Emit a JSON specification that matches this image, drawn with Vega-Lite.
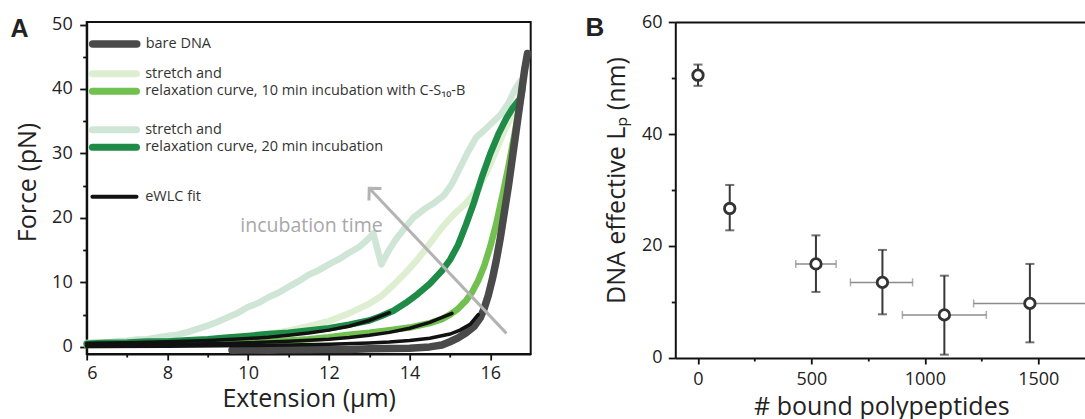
{
  "$schema": "https://vega.github.io/schema/vega-lite/v6.json",
  "padding": {"left": 8.7, "top": 13, "right": 0, "bottom": 0},
  "config": {
    "font": "Open Sans",
    "view": {"stroke": "#111", "strokeWidth": 2},
    "axis": {"grid": false, "domainColor": "#111", "domainWidth": 2, "tickColor": "#111", "tickWidth": 1.8, "labelFontSize": 18, "labelColor": "#222", "titleFontSize": 25, "titleFontWeight": "normal", "titleColor": "#222"},
    "legend": {"labelFont": "Open Sans", "orient": "none", "title": null, "symbolType": "M-6.3,0L6.3,0", "symbolSize": 49, "labelOffset": 23.5, "labelFontSize": 14.5, "labelColor": "#333", "padding": 0, "labelLimit": 500},
    "title": {"font": "Open Sans"}
  },
  "datasets": {
    "s20": [
      {"s": "stretch and", "x": 6.0, "y": 0.6}, {"s": "stretch and", "x": 6.25, "y": 0.75}, {"s": "stretch and", "x": 6.5, "y": 0.7}, {"s": "stretch and", "x": 6.75, "y": 0.9}, {"s": "stretch and", "x": 7.0, "y": 0.95}, {"s": "stretch and", "x": 7.25, "y": 1.15}, {"s": "stretch and", "x": 7.5, "y": 1.2}, {"s": "stretch and", "x": 7.75, "y": 1.45}, {"s": "stretch and", "x": 8.0, "y": 1.7}, {"s": "stretch and", "x": 8.25, "y": 1.9}, {"s": "stretch and", "x": 8.5, "y": 2.3}, {"s": "stretch and", "x": 8.75, "y": 2.8}, {"s": "stretch and", "x": 9.0, "y": 3.3}, {"s": "stretch and", "x": 9.25, "y": 3.9}, {"s": "stretch and", "x": 9.5, "y": 4.6}, {"s": "stretch and", "x": 9.75, "y": 5.3}, {"s": "stretch and", "x": 10.0, "y": 6.2}, {"s": "stretch and", "x": 10.25, "y": 6.8}, {"s": "stretch and", "x": 10.5, "y": 7.7}, {"s": "stretch and", "x": 10.75, "y": 8.4}, {"s": "stretch and", "x": 11.0, "y": 9.3}, {"s": "stretch and", "x": 11.25, "y": 10.2}, {"s": "stretch and", "x": 11.5, "y": 11.2}, {"s": "stretch and", "x": 11.75, "y": 11.9}, {"s": "stretch and", "x": 12.0, "y": 12.8}, {"s": "stretch and", "x": 12.25, "y": 13.6}, {"s": "stretch and", "x": 12.5, "y": 14.6}, {"s": "stretch and", "x": 12.75, "y": 15.5}, {"s": "stretch and", "x": 12.95, "y": 16.6}, {"s": "stretch and", "x": 13.1, "y": 17.6}, {"s": "stretch and", "x": 13.2, "y": 15.2}, {"s": "stretch and", "x": 13.3, "y": 12.8}, {"s": "stretch and", "x": 13.45, "y": 14.6}, {"s": "stretch and", "x": 13.65, "y": 16.6}, {"s": "stretch and", "x": 13.9, "y": 18.6}, {"s": "stretch and", "x": 14.1, "y": 20.1}, {"s": "stretch and", "x": 14.35, "y": 21.3}, {"s": "stretch and", "x": 14.6, "y": 22.3}, {"s": "stretch and", "x": 14.85, "y": 23.5}, {"s": "stretch and", "x": 15.05, "y": 25.3}, {"s": "stretch and", "x": 15.25, "y": 27.8}, {"s": "stretch and", "x": 15.45, "y": 30.3}, {"s": "stretch and", "x": 15.65, "y": 32.5}, {"s": "stretch and", "x": 15.85, "y": 33.6}, {"s": "stretch and", "x": 16.05, "y": 34.8}, {"s": "stretch and", "x": 16.25, "y": 36.0}, {"s": "stretch and", "x": 16.45, "y": 37.8}, {"s": "stretch and", "x": 16.6, "y": 39.8}, {"s": "stretch and", "x": 16.75, "y": 41.3}
    ],
    "r20": [
      {"s": "relaxation curve, 20 min incubation", "x": 6.0, "y": 0.5}, {"s": "relaxation curve, 20 min incubation", "x": 6.5, "y": 0.65}, {"s": "relaxation curve, 20 min incubation", "x": 7.0, "y": 0.7}, {"s": "relaxation curve, 20 min incubation", "x": 7.5, "y": 0.85}, {"s": "relaxation curve, 20 min incubation", "x": 8.0, "y": 0.85}, {"s": "relaxation curve, 20 min incubation", "x": 8.5, "y": 1.05}, {"s": "relaxation curve, 20 min incubation", "x": 9.0, "y": 1.2}, {"s": "relaxation curve, 20 min incubation", "x": 9.5, "y": 1.45}, {"s": "relaxation curve, 20 min incubation", "x": 10.0, "y": 1.7}, {"s": "relaxation curve, 20 min incubation", "x": 10.5, "y": 2.0}, {"s": "relaxation curve, 20 min incubation", "x": 11.0, "y": 2.2}, {"s": "relaxation curve, 20 min incubation", "x": 11.5, "y": 2.55}, {"s": "relaxation curve, 20 min incubation", "x": 12.0, "y": 2.9}, {"s": "relaxation curve, 20 min incubation", "x": 12.5, "y": 3.45}, {"s": "relaxation curve, 20 min incubation", "x": 13.0, "y": 4.1}, {"s": "relaxation curve, 20 min incubation", "x": 13.3, "y": 4.8}, {"s": "relaxation curve, 20 min incubation", "x": 13.6, "y": 5.6}, {"s": "relaxation curve, 20 min incubation", "x": 13.9, "y": 6.8}, {"s": "relaxation curve, 20 min incubation", "x": 14.2, "y": 8.2}, {"s": "relaxation curve, 20 min incubation", "x": 14.5, "y": 9.8}, {"s": "relaxation curve, 20 min incubation", "x": 14.8, "y": 11.8}, {"s": "relaxation curve, 20 min incubation", "x": 15.0, "y": 13.5}, {"s": "relaxation curve, 20 min incubation", "x": 15.2, "y": 15.8}, {"s": "relaxation curve, 20 min incubation", "x": 15.4, "y": 19.0}, {"s": "relaxation curve, 20 min incubation", "x": 15.6, "y": 22.5}, {"s": "relaxation curve, 20 min incubation", "x": 15.8, "y": 26.5}, {"s": "relaxation curve, 20 min incubation", "x": 16.0, "y": 30.0}, {"s": "relaxation curve, 20 min incubation", "x": 16.2, "y": 33.0}, {"s": "relaxation curve, 20 min incubation", "x": 16.4, "y": 35.5}, {"s": "relaxation curve, 20 min incubation", "x": 16.55, "y": 37.0}, {"s": "relaxation curve, 20 min incubation", "x": 16.7, "y": 38.2}
    ],
    "s10": [
      {"s": "stretch and", "x": 6.0, "y": 0.4}, {"s": "stretch and", "x": 7.0, "y": 0.5}, {"s": "stretch and", "x": 8.0, "y": 0.7}, {"s": "stretch and", "x": 9.0, "y": 1.0}, {"s": "stretch and", "x": 9.5, "y": 1.3}, {"s": "stretch and", "x": 10.0, "y": 1.6}, {"s": "stretch and", "x": 10.5, "y": 2.0}, {"s": "stretch and", "x": 11.0, "y": 2.5}, {"s": "stretch and", "x": 11.5, "y": 3.2}, {"s": "stretch and", "x": 12.0, "y": 4.0}, {"s": "stretch and", "x": 12.5, "y": 5.2}, {"s": "stretch and", "x": 13.0, "y": 6.7}, {"s": "stretch and", "x": 13.3, "y": 7.9}, {"s": "stretch and", "x": 13.6, "y": 9.6}, {"s": "stretch and", "x": 13.9, "y": 11.5}, {"s": "stretch and", "x": 14.2, "y": 13.6}, {"s": "stretch and", "x": 14.5, "y": 16.0}, {"s": "stretch and", "x": 14.8, "y": 18.5}, {"s": "stretch and", "x": 15.1, "y": 20.6}, {"s": "stretch and", "x": 15.4, "y": 22.3}, {"s": "stretch and", "x": 15.7, "y": 24.6}, {"s": "stretch and", "x": 15.9, "y": 27.0}, {"s": "stretch and", "x": 16.1, "y": 29.8}, {"s": "stretch and", "x": 16.3, "y": 32.8}, {"s": "stretch and", "x": 16.5, "y": 35.5}, {"s": "stretch and", "x": 16.7, "y": 38.5}, {"s": "stretch and", "x": 16.8, "y": 40.0}
    ],
    "r10": [
      {"s": "relaxation curve, 10 min incubation with C-S₁₀-B", "x": 6.0, "y": 0.3}, {"s": "relaxation curve, 10 min incubation with C-S₁₀-B", "x": 7.0, "y": 0.35}, {"s": "relaxation curve, 10 min incubation with C-S₁₀-B", "x": 8.0, "y": 0.45}, {"s": "relaxation curve, 10 min incubation with C-S₁₀-B", "x": 9.0, "y": 0.55}, {"s": "relaxation curve, 10 min incubation with C-S₁₀-B", "x": 9.5, "y": 0.65}, {"s": "relaxation curve, 10 min incubation with C-S₁₀-B", "x": 10.0, "y": 0.7}, {"s": "relaxation curve, 10 min incubation with C-S₁₀-B", "x": 10.5, "y": 0.8}, {"s": "relaxation curve, 10 min incubation with C-S₁₀-B", "x": 11.0, "y": 1.0}, {"s": "relaxation curve, 10 min incubation with C-S₁₀-B", "x": 11.5, "y": 1.2}, {"s": "relaxation curve, 10 min incubation with C-S₁₀-B", "x": 12.0, "y": 1.5}, {"s": "relaxation curve, 10 min incubation with C-S₁₀-B", "x": 12.5, "y": 1.9}, {"s": "relaxation curve, 10 min incubation with C-S₁₀-B", "x": 13.0, "y": 2.2}, {"s": "relaxation curve, 10 min incubation with C-S₁₀-B", "x": 13.5, "y": 2.6}, {"s": "relaxation curve, 10 min incubation with C-S₁₀-B", "x": 14.0, "y": 3.0}, {"s": "relaxation curve, 10 min incubation with C-S₁₀-B", "x": 14.5, "y": 3.7}, {"s": "relaxation curve, 10 min incubation with C-S₁₀-B", "x": 14.8, "y": 4.3}, {"s": "relaxation curve, 10 min incubation with C-S₁₀-B", "x": 15.0, "y": 5.0}, {"s": "relaxation curve, 10 min incubation with C-S₁₀-B", "x": 15.2, "y": 5.9}, {"s": "relaxation curve, 10 min incubation with C-S₁₀-B", "x": 15.4, "y": 7.2}, {"s": "relaxation curve, 10 min incubation with C-S₁₀-B", "x": 15.55, "y": 8.5}, {"s": "relaxation curve, 10 min incubation with C-S₁₀-B", "x": 15.7, "y": 10.3}, {"s": "relaxation curve, 10 min incubation with C-S₁₀-B", "x": 15.85, "y": 12.6}, {"s": "relaxation curve, 10 min incubation with C-S₁₀-B", "x": 16.0, "y": 15.6}, {"s": "relaxation curve, 10 min incubation with C-S₁₀-B", "x": 16.15, "y": 19.2}, {"s": "relaxation curve, 10 min incubation with C-S₁₀-B", "x": 16.3, "y": 23.5}, {"s": "relaxation curve, 10 min incubation with C-S₁₀-B", "x": 16.45, "y": 28.0}, {"s": "relaxation curve, 10 min incubation with C-S₁₀-B", "x": 16.6, "y": 33.0}, {"s": "relaxation curve, 10 min incubation with C-S₁₀-B", "x": 16.72, "y": 37.3}, {"s": "relaxation curve, 10 min incubation with C-S₁₀-B", "x": 16.8, "y": 40.0}
    ],
    "bare": [
      {"s": "bare DNA", "x": 9.6, "y": -0.5}, {"s": "bare DNA", "x": 10.0, "y": -0.45}, {"s": "bare DNA", "x": 10.5, "y": -0.5}, {"s": "bare DNA", "x": 11.0, "y": -0.4}, {"s": "bare DNA", "x": 11.5, "y": -0.45}, {"s": "bare DNA", "x": 12.0, "y": -0.35}, {"s": "bare DNA", "x": 12.5, "y": -0.4}, {"s": "bare DNA", "x": 13.0, "y": -0.3}, {"s": "bare DNA", "x": 13.5, "y": -0.25}, {"s": "bare DNA", "x": 14.0, "y": -0.2}, {"s": "bare DNA", "x": 14.5, "y": 0.0}, {"s": "bare DNA", "x": 14.8, "y": 0.3}, {"s": "bare DNA", "x": 15.0, "y": 0.8}, {"s": "bare DNA", "x": 15.2, "y": 1.4}, {"s": "bare DNA", "x": 15.4, "y": 2.2}, {"s": "bare DNA", "x": 15.6, "y": 3.2}, {"s": "bare DNA", "x": 15.75, "y": 4.5}, {"s": "bare DNA", "x": 15.85, "y": 6.0}, {"s": "bare DNA", "x": 15.95, "y": 8.0}, {"s": "bare DNA", "x": 16.05, "y": 10.5}, {"s": "bare DNA", "x": 16.15, "y": 13.5}, {"s": "bare DNA", "x": 16.25, "y": 17.0}, {"s": "bare DNA", "x": 16.35, "y": 21.0}, {"s": "bare DNA", "x": 16.45, "y": 25.0}, {"s": "bare DNA", "x": 16.55, "y": 29.5}, {"s": "bare DNA", "x": 16.65, "y": 34.0}, {"s": "bare DNA", "x": 16.75, "y": 38.5}, {"s": "bare DNA", "x": 16.85, "y": 43.0}, {"s": "bare DNA", "x": 16.92, "y": 45.5}
    ],
    "fit": [
      {"s": "eWLC fit", "c": "20", "x": 6, "y": 0.55}, {"s": "eWLC fit", "c": "20", "x": 7, "y": 0.65}, {"s": "eWLC fit", "c": "20", "x": 8, "y": 0.8}, {"s": "eWLC fit", "c": "20", "x": 9, "y": 1.0}, {"s": "eWLC fit", "c": "20", "x": 10, "y": 1.3}, {"s": "eWLC fit", "c": "20", "x": 10.5, "y": 1.5}, {"s": "eWLC fit", "c": "20", "x": 11, "y": 1.8}, {"s": "eWLC fit", "c": "20", "x": 11.5, "y": 2.15}, {"s": "eWLC fit", "c": "20", "x": 12, "y": 2.6}, {"s": "eWLC fit", "c": "20", "x": 12.5, "y": 3.2}, {"s": "eWLC fit", "c": "20", "x": 13, "y": 4.1}, {"s": "eWLC fit", "c": "20", "x": 13.5, "y": 5.3},
      {"s": "eWLC fit", "c": "10", "x": 6, "y": 0.2}, {"s": "eWLC fit", "c": "10", "x": 7, "y": 0.28}, {"s": "eWLC fit", "c": "10", "x": 8, "y": 0.38}, {"s": "eWLC fit", "c": "10", "x": 9, "y": 0.5}, {"s": "eWLC fit", "c": "10", "x": 10, "y": 0.65}, {"s": "eWLC fit", "c": "10", "x": 11, "y": 0.88}, {"s": "eWLC fit", "c": "10", "x": 12, "y": 1.2}, {"s": "eWLC fit", "c": "10", "x": 12.5, "y": 1.45}, {"s": "eWLC fit", "c": "10", "x": 13, "y": 1.8}, {"s": "eWLC fit", "c": "10", "x": 13.5, "y": 2.25}, {"s": "eWLC fit", "c": "10", "x": 14, "y": 2.9}, {"s": "eWLC fit", "c": "10", "x": 14.5, "y": 3.8}, {"s": "eWLC fit", "c": "10", "x": 15.05, "y": 5.2},
      {"s": "eWLC fit", "c": "0", "x": 6, "y": 0.05}, {"s": "eWLC fit", "c": "0", "x": 8, "y": 0.1}, {"s": "eWLC fit", "c": "0", "x": 10, "y": 0.2}, {"s": "eWLC fit", "c": "0", "x": 11, "y": 0.28}, {"s": "eWLC fit", "c": "0", "x": 12, "y": 0.4}, {"s": "eWLC fit", "c": "0", "x": 13, "y": 0.6}, {"s": "eWLC fit", "c": "0", "x": 13.5, "y": 0.75}, {"s": "eWLC fit", "c": "0", "x": 14, "y": 1.0}, {"s": "eWLC fit", "c": "0", "x": 14.5, "y": 1.35}, {"s": "eWLC fit", "c": "0", "x": 15, "y": 2.0}, {"s": "eWLC fit", "c": "0", "x": 15.25, "y": 2.6}, {"s": "eWLC fit", "c": "0", "x": 15.5, "y": 3.5}, {"s": "eWLC fit", "c": "0", "x": 15.7, "y": 5.0}
    ],
    "arrow": [{"x": 16.4, "y": 2.1, "x2": 13.0, "y2": 24.6}],
    "head": [{"x": 13.0, "y": 24.6}],
    "note": [{"x": 11.57, "y": 18.7, "label": "incubation time"}],
    "lp": [
      {"n": 0, "nLo": 0, "nHi": 0, "lp": 50.5, "lpLo": 48.6, "lpHi": 52.4},
      {"n": 140, "nLo": 118, "nHi": 162, "lp": 26.7, "lpLo": 22.8, "lpHi": 30.9},
      {"n": 520, "nLo": 431, "nHi": 609, "lp": 16.8, "lpLo": 11.8, "lpHi": 21.9},
      {"n": 813, "nLo": 672, "nHi": 946, "lp": 13.5, "lpLo": 7.8, "lpHi": 19.3},
      {"n": 1086, "nLo": 901, "nHi": 1271, "lp": 7.7, "lpLo": 0.6, "lpHi": 14.7},
      {"n": 1463, "nLo": 1215, "nHi": 1710, "lp": 9.75, "lpLo": 2.8, "lpHi": 16.8}
    ]
  },
  "bounds": "flush",
  "spacing": 144.6,
  "hconcat": [
    {
      "width": 444,
      "height": 332,
      "title": {"text": "A", "anchor": "start", "frame": "bounds", "font": "Liberation Sans", "fontSize": 25, "fontWeight": "bold", "color": "#222", "dx": -5, "dy": 30.5},
      "encoding": {
        "x": {"field": "x", "type": "quantitative", "title": "Extension (μm)", "scale": {"domain": [6, 17], "nice": false, "zero": false},
          "axis": {"values": [6, 7, 8, 9, 10, 11, 12, 13, 14, 15, 16], "labelExpr": "datum.value % 2 === 0 ? datum.label : ''", "tickSize": {"condition": {"test": "datum.value % 2 === 0", "value": 6}, "value": 3}, "labelPadding": 5, "titlePadding": 3.5}},
        "y": {"field": "y", "type": "quantitative", "title": "Force (pN)", "scale": {"domain": [-1.1, 50.39], "nice": false, "zero": false},
          "axis": {"values": [0, 5, 10, 15, 20, 25, 30, 35, 40, 45, 50], "labelExpr": "datum.value % 10 === 0 ? datum.label : ''", "tickSize": {"condition": {"test": "datum.value % 10 === 0", "value": 7}, "value": 4}, "labelPadding": 7.5, "titlePadding": 11, "titleY": 160}}
      },
      "layer": [
        {
          "data": {"name": "s20"},
          "mark": {"type": "line", "strokeWidth": 6.5, "strokeJoin": "round", "strokeCap": "round"},
          "encoding": {"color": {"field": "s", "type": "nominal", "scale": {"range": ["#cfe5d6"]},
            "legend": {"legendX": 20.5, "legendY": 100.4, "symbolStrokeWidth": 7, "encode": {"symbols": {"update": {"strokeCap": {"value": "round"}}}}}}}
        },
        {
          "data": {"name": "s10"},
          "mark": {"type": "line", "strokeWidth": 6.5, "strokeJoin": "round", "strokeCap": "round"},
          "encoding": {"color": {"field": "s", "type": "nominal", "scale": {"range": ["#ddefd0"]},
            "legend": {"legendX": 20.5, "legendY": 44.4, "symbolStrokeWidth": 7, "encode": {"symbols": {"update": {"strokeCap": {"value": "round"}}}}}}}
        },
        {
          "data": {"name": "r10"},
          "mark": {"type": "line", "strokeWidth": 6.5, "strokeJoin": "round", "strokeCap": "round"},
          "encoding": {"color": {"field": "s", "type": "nominal", "scale": {"range": ["#72c04f"]},
            "legend": {"legendX": 20.5, "legendY": 62.1, "symbolStrokeWidth": 7, "encode": {"symbols": {"update": {"strokeCap": {"value": "round"}}}}}}}
        },
        {
          "data": {"name": "r20"},
          "mark": {"type": "line", "strokeWidth": 6.5, "strokeJoin": "round", "strokeCap": "round"},
          "encoding": {"color": {"field": "s", "type": "nominal", "scale": {"range": ["#1e8b47"]},
            "legend": {"legendX": 20.5, "legendY": 118.1, "symbolStrokeWidth": 7, "encode": {"symbols": {"update": {"strokeCap": {"value": "round"}}}}}}}
        },
        {
          "data": {"name": "bare"},
          "mark": {"type": "line", "strokeWidth": 7.5, "strokeJoin": "round", "strokeCap": "round"},
          "encoding": {"color": {"field": "s", "type": "nominal", "scale": {"range": ["#4a4a4a"]},
            "legend": {"legendX": 20.5, "legendY": 14.6, "symbolStrokeWidth": 7.5, "encode": {"symbols": {"update": {"strokeCap": {"value": "round"}}}}}}}
        },
        {
          "data": {"name": "fit"},
          "mark": {"type": "line", "strokeWidth": 3.5, "strokeCap": "round"},
          "encoding": {"detail": {"field": "c"}, "color": {"field": "s", "type": "nominal", "scale": {"range": ["#111111"]},
            "legend": {"legendX": 20.5, "legendY": 167.4, "symbolStrokeWidth": 4, "encode": {"symbols": {"update": {"strokeCap": {"value": "round"}}}}}}}
        },
        {
          "data": {"name": "arrow"},
          "mark": {"type": "rule", "color": "#b3b3b3", "strokeWidth": 3},
          "encoding": {"x2": {"field": "x2"}, "y2": {"field": "y2"}}
        },
        {
          "data": {"name": "head"},
          "mark": {"type": "point", "shape": "M-1,1L0,0L1,1", "size": 300, "angle": 316.5, "filled": false, "stroke": "#b3b3b3", "strokeWidth": 3, "opacity": 1}
        },
        {
          "data": {"name": "note"},
          "mark": {"type": "text", "fontSize": 19.5, "color": "#a8a8a8", "align": "center", "baseline": "middle"},
          "encoding": {"text": {"field": "label"}}
        }
      ],
      "resolve": {"scale": {"color": "independent"}}
    },
    {
      "width": 412,
      "height": 336,
      "view": {"stroke": null},
      "title": {"text": "B", "anchor": "start", "frame": "bounds", "font": "Liberation Sans", "fontSize": 26, "fontWeight": "bold", "color": "#222", "dx": -19, "dy": 32},
      "data": {"name": "lp"},
      "layer": [
        {
          "mark": {"type": "errorbar", "ticks": true, "color": "#383838", "thickness": 2, "size": 9},
          "encoding": {
            "x": {"field": "n", "type": "quantitative", "title": "# bound polypeptides", "scale": {"domain": [-100, 1716], "nice": false, "zero": false},
              "axis": {"values": [0, 250, 500, 750, 1000, 1250, 1500], "format": "d", "labelExpr": "datum.value % 500 === 0 ? datum.label : ''", "tickSize": {"condition": {"test": "datum.value % 500 === 0", "value": 6}, "value": 3}, "labelPadding": 7, "titlePadding": 6}},
            "y": {"field": "lpLo", "type": "quantitative", "title": "DNA effective Lₚ (nm)", "scale": {"domain": [0, 60], "nice": false},
              "axis": {"values": [0, 10, 20, 30, 40, 50, 60], "labelExpr": "datum.value % 20 === 0 ? datum.label : ''", "tickSize": {"condition": {"test": "datum.value % 20 === 0", "value": 7}, "value": 4}, "labelPadding": 6.3, "titlePadding": 12, "titleY": 158}},
            "y2": {"field": "lpHi"}
          }
        },
        {
          "mark": {"type": "errorbar", "ticks": true, "color": "#8c8c8c", "thickness": 1.5, "size": 8},
          "encoding": {
            "x": {"field": "nLo", "type": "quantitative", "axis": null},
            "x2": {"field": "nHi"},
            "y": {"field": "lp", "type": "quantitative", "title": "DNA effective Lₚ (nm)"}
          }
        },
        {
          "mark": {"type": "point", "shape": "circle", "filled": true, "fill": "white", "stroke": "#333", "strokeWidth": 2.8, "size": 110, "opacity": 1},
          "encoding": {
            "x": {"field": "n", "type": "quantitative", "axis": {"orient": "top", "labels": false, "ticks": false, "title": null, "domain": true}},
            "y": {"field": "lp", "type": "quantitative", "title": "DNA effective Lₚ (nm)"}
          }
        }
      ],
      "resolve": {"axis": {"x": "independent"}}
    }
  ]
}
